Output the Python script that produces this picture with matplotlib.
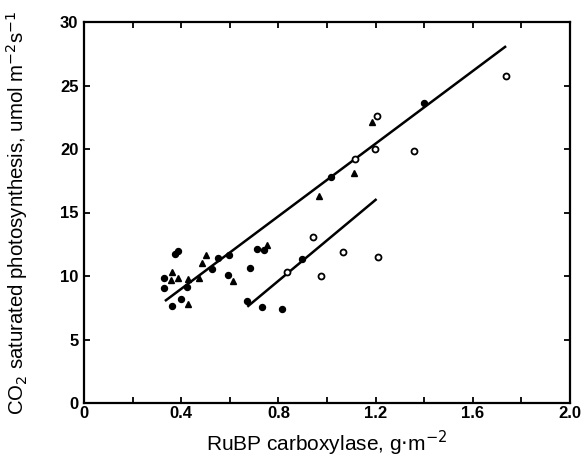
import matplotlib
matplotlib.use("Agg")
import matplotlib.pyplot as plt
from matplotlib.ticker import MultipleLocator, FuncFormatter

# Data
filled_x = [0.374, 0.388, 0.331, 0.331, 0.422, 0.399, 0.363, 0.553, 0.597, 0.525,
            0.591, 0.683, 0.713, 0.741, 0.672, 0.733, 0.813, 0.896, 1.015, 1.399]
filled_y = [11.7, 11.95, 9.82, 9.05, 9.17, 8.16, 7.62, 11.39, 11.62, 10.55,
            10.08, 10.66, 12.12, 12.05, 8.06, 7.58, 7.4, 11.34, 17.82, 23.6]

tri_x = [0.50, 0.484, 0.363, 0.358, 0.386, 0.429, 0.473, 0.427, 0.614, 0.752,
         0.966, 1.112, 1.187]
tri_y = [11.65, 11.05, 10.34, 9.69, 9.87, 9.74, 9.84, 7.8, 9.63, 12.44,
         16.3, 18.08, 22.15]

open_x = [0.834, 0.944, 0.974, 1.067, 1.211, 1.115, 1.198, 1.204, 1.358, 1.735]
open_y = [10.3, 13.07, 10.0, 11.87, 11.47, 19.2, 19.97, 22.6, 19.87, 25.75]

line1_x = [0.333, 1.737]
line1_y = [8.03, 28.1]
line2_x = [0.672, 1.204]
line2_y = [7.58, 16.06]

plt.rcParams['font.family'] = ['Liberation Sans', 'DejaVu Sans']

fig = plt.figure(figsize=(5.82, 4.58), dpi=100)
ax = fig.add_axes([84/582, 55/458, (570-84)/582, (403-22)/458])

ax.plot(line1_x, line1_y, color='black', lw=1.8, solid_capstyle='butt')
ax.plot(line2_x, line2_y, color='black', lw=1.8, solid_capstyle='butt')

ax.plot(filled_x, filled_y, 'o', color='black', ms=4.3, ls='none')
ax.plot(tri_x, tri_y, '^', color='black', ms=4.3, ls='none')
ax.plot(open_x, open_y, 'o', mfc='white', mec='black', mew=1.3, ms=4.3, ls='none')

ax.set_xlim(0, 2.0)
ax.set_ylim(0, 30)
ax.xaxis.set_major_locator(MultipleLocator(0.2))
ax.xaxis.set_major_formatter(FuncFormatter(
    lambda v, p: ('0' if abs(v) < 1e-9 else f'{v:.1f}') if round(v / 0.2) % 2 == 0 else ''))
ax.yaxis.set_major_locator(MultipleLocator(5))
ax.yaxis.set_major_formatter(FuncFormatter(lambda v, p: f'{int(round(v))}'))

ax.tick_params(direction='in', length=4.5, width=1.3, top=True, right=True,
               labelsize=12, pad=2)
ax.tick_params(axis='y', pad=4)
for lab in ax.get_xticklabels() + ax.get_yticklabels():
    lab.set_fontweight('bold')
for s in ax.spines.values():
    s.set_linewidth(1.6)

ax.set_xlabel('RuBP carboxylase, g$\\cdot$m$^{-2}$', fontsize=15)
ax.set_ylabel('CO$_2$ saturated photosynthesis, umol m$^{-2}$s$^{-1}$', fontsize=14.7)
ax.xaxis.label.set_va('center')
ax.yaxis.label.set_va('center')
ax.xaxis.set_label_coords(0.5, (403 - 443) / 381)
ax.yaxis.set_label_coords((17 - 84) / 486, 0.5)

fig.savefig('out.png', dpi=100)
